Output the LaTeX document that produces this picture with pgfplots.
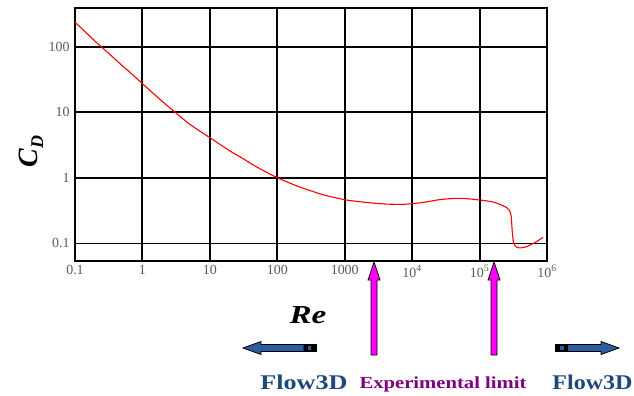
\documentclass[border=0pt]{standalone}
\usepackage{fontspec}
\setmainfont{Liberation Serif}
\usepackage{pgfplots}
\pgfplotsset{compat=1.18}
\newfontfamily\tickfont{Liberation Serif}
\definecolor{arrowblue}{RGB}{46,92,162}
\definecolor{textblue}{RGB}{31,73,125}
\definecolor{limitpurple}{RGB}{128,0,128}
\definecolor{puremagenta}{RGB}{255,0,255}
\begin{document}
\begin{tikzpicture}[x=1bp,y=1bp]
\useasboundingbox (0,0) rectangle (634,395);
\begin{axis}[
  at={(75bp,134bp)}, anchor=south west,
  scale only axis, width=472bp, height=253bp,
  xmode=log, ymode=log,
  xmin=0.1, xmax=1e6, ymin=0.053, ymax=396,
  xtick={0.1,1,10,100,1000,1e4,1e5,1e6},
  xticklabels={0.1,1,10,100,1000,10\textsuperscript{4},10\textsuperscript{5},10\textsuperscript{6}},
  ytick={1,10,100},
  yticklabels={1,10,100},
  extra y ticks={0.1},
  extra y tick labels={0.1},
  extra y tick style={grid=major, major grid style={black,line width=0.9bp}},
  grid=major,
  major grid style={black,line width=1.9bp},
  axis line style={black,line width=1.9bp},
  major tick length=0pt, minor tick length=0pt,
  ticklabel style={font=\tickfont\fontsize{14}{14}\selectfont, text=black!65},
  xticklabel style={yshift=-1bp},
  yticklabel style={xshift=-2bp},
]
\addplot[red, line width=1.1bp, smooth, tension=0.4] coordinates {
(0.1,240) (0.2,122) (0.3,84) (0.5,52) (0.7,38.5) (1,27.5) (2,14.5) (3,10.2)
(5,6.6) (10,4.1) (20,2.55) (30,2.0) (50,1.45) (100,1.0) (200,0.74) (300,0.64)
(500,0.54) (1000,0.46) (2000,0.42) (4000,0.395) (7000,0.39) (10000,0.40)
(15000,0.42) (25000,0.46) (40000,0.48) (60000,0.48) (100000,0.455)
(150000,0.43) (200000,0.39) (250000,0.35) (280000,0.31) (295000,0.25)
(305000,0.15) (320000,0.10) (350000,0.087) (400000,0.084) (500000,0.088)
(700000,0.105) (870000,0.122)
};
\end{axis}
% axis titles
\node[rotate=90, anchor=base, inner sep=0pt] at (37,243.5)
  {\fontsize{28}{28}\selectfont\bfseries\itshape C\raisebox{-6bp}{\fontsize{18}{18}\selectfont D}};
\node[anchor=base, inner sep=0pt] at (308,72)
  {\scalebox{1.28}[1]{\fontsize{26}{26}\selectfont\bfseries\itshape Re}};
% magenta arrows (experimental limits)
\foreach \cx in {374,494}{
  \filldraw[fill=puremagenta, draw=black, line width=0.8bp]
    (\cx-3,40) -- (\cx+3,40) -- (\cx+3,115) -- (\cx+6,115) -- (\cx,133)
    -- (\cx-6,115) -- (\cx-3,115) -- cycle;
}
% left blue arrow
\filldraw[fill=arrowblue, draw=black, line width=0.8bp]
  (243,47) -- (261,53.5) -- (261,50.5) -- (304,50.5) -- (304,43.5) -- (261,43.5) -- (261,40.5) -- cycle;
\filldraw[fill=black, draw=black, line width=0.8bp] (304,43.5) rectangle (316,50.5);
\fill[arrowblue] (307.5,45) rectangle (311,49);
% right blue arrow
\filldraw[fill=arrowblue, draw=black, line width=0.8bp]
  (619,47) -- (601,53.5) -- (601,50.5) -- (567,50.5) -- (567,43.5) -- (601,43.5) -- (601,40.5) -- cycle;
\filldraw[fill=black, draw=black, line width=0.8bp] (555,43.5) rectangle (567,50.5);
\fill[arrowblue] (560,45) rectangle (563.5,49);
% bottom texts
\node[anchor=base, inner sep=0pt, text=textblue] at (304,6)
  {\scalebox{1.25}[1]{\fontsize{21}{21}\selectfont\bfseries Flow3D}};
\node[anchor=base, inner sep=0pt, text=limitpurple] at (443,7)
  {\scalebox{1.22}[1]{\fontsize{17}{17}\selectfont\bfseries Experimental limit}};
\node[anchor=base, inner sep=0pt, text=textblue] at (592.5,6)
  {\scalebox{1.15}[1]{\fontsize{21}{21}\selectfont\bfseries Flow3D}};
\end{tikzpicture}
\end{document}
